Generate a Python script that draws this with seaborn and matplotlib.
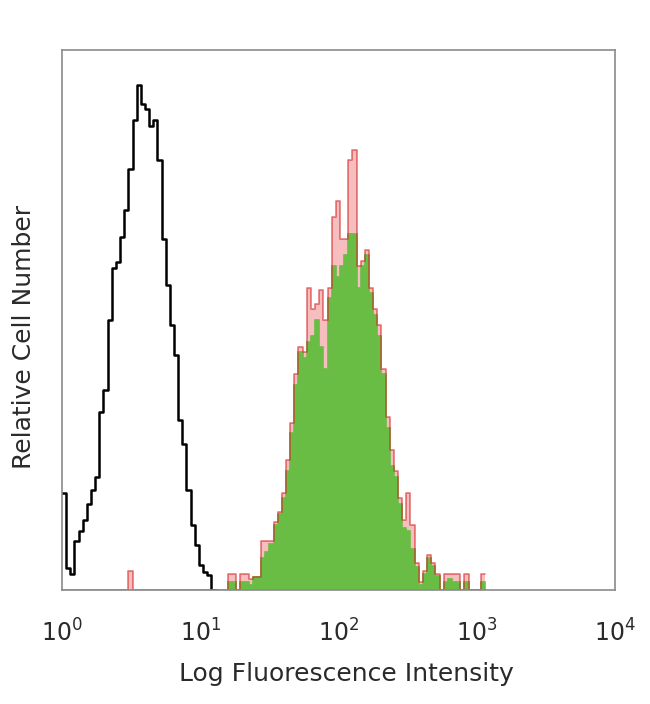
"""
Flow cytometry overlay: unstained control vs. stained cells
"""

import numpy as np
import matplotlib
matplotlib.use("Agg")
import matplotlib.pyplot as plt
import matplotlib.ticker as mticker
import seaborn as sns

# ==================== Data ====================
bin_width = 0.03  # log10 units

# control (black outline), bins starting at 10^0
control_start = 0.0
control_counts = [18, 4, 3, 9, 11, 13, 16, 18.5, 21, 33,
                  37, 50, 59.6, 60.7, 65.4, 70.4, 78, 87, 93.5, 90,
                  89, 86, 87, 79.6, 65, 56.5, 49, 43.5, 31.5, 27,
                  18.5, 12, 8.3, 4.6, 3.3, 2.8, 0]

# stained sample (green fill), bins starting at 10^1.2
stained_start = 1.2
stained_counts = [1.5, 1.5, 0, 1.5, 1.5, 1, 2.4, 2.4, 6, 7,
                  8.5, 12, 14, 17, 22, 29, 38, 44, 43, 46,
                  47, 50, 45, 41, 54, 60, 58, 60, 62, 66,
                  66, 56, 60, 62, 55, 51, 47, 40, 30, 23,
                  21, 16, 11.5, 11, 7.5, 4.3, 1, 3, 6, 4.5,
                  2.5, 0, 1.5, 2, 1.5, 1.5, 0, 1.5, 0, 0,
                  0, 1.5]

# stained sample outline (red), same bins, spikier than the fill
stained_outline = [3, 3, 0, 3, 3, 2, 2.4, 2.4, 9, 9,
                   9, 12.5, 14.5, 18, 24, 31, 40, 45, 44, 56,
                   52, 53, 55.5, 50, 56, 69, 72, 65, 65, 79.6,
                   81.5, 60, 61, 63, 56, 52, 49, 41, 32, 26,
                   22, 17, 13, 18, 12, 5, 1.5, 3.5, 6.5, 5,
                   3, 0, 3, 3, 3, 3, 0, 3, 0, 0,
                   0, 3]
# red outline also runs along the baseline from 10^0, with one small spike
outline_lead = [0] * 16 + [3.5] + [0] * 23

x_ticks = [1, 10, 100, 1000, 10000]

# ==================== Build bins ====================
ctrl_edges = control_start + bin_width * np.arange(len(control_counts) + 1)
ctrl_x = 10 ** (ctrl_edges[:-1] + bin_width / 2)

st_edges = stained_start + bin_width * np.arange(len(stained_counts) + 1)
st_x = 10 ** (st_edges[:-1] + bin_width / 2)

red_counts = outline_lead + stained_outline
red_edges = control_start + bin_width * np.arange(len(red_counts) + 1)
red_x = 10 ** (red_edges[:-1] + bin_width / 2)

# ==================== Plot ====================
sns.set_style("white")
plt.rcParams['font.family'] = ['DejaVu Sans']

green = "#69bd45"
red = "#d42020"
text_col = '#2a2a2a'

fig = plt.figure(figsize=(6.5, 7.04), dpi=100)
ax = fig.add_axes([0.0954, 0.162, 0.851, 0.767])

# pale red spikes behind the green fill
sns.histplot(x=red_x, weights=red_counts, bins=list(red_edges), log_scale=True,
             element="step", fill=True, color="#f08a8a", alpha=0.55,
             linewidth=0, ax=ax)
# filled green histogram drawn as touching bars
sns.histplot(x=st_x, weights=stained_counts, bins=list(st_edges), log_scale=True,
             element="bars", shrink=1, fill=True, color=green, alpha=1,
             edgecolor=green, linewidth=1.2, ax=ax)
# red outline on top
sns.histplot(x=red_x, weights=red_counts, bins=list(red_edges), log_scale=True,
             element="step", fill=False, color=red, alpha=0.55,
             linewidth=1.3, ax=ax)
sns.histplot(x=ctrl_x, weights=control_counts, bins=list(ctrl_edges), log_scale=True,
             element="step", fill=False, color="black", linewidth=1.8, ax=ax)

ax.set_xlim(1, 10000)
ax.set_ylim(0, 100)
ax.set_xticks(x_ticks)
ax.xaxis.set_minor_locator(mticker.NullLocator())
ax.set_yticks([])
ax.tick_params(axis='x', length=0, pad=21, labelsize=17, colors=text_col)

for s in ax.spines.values():
    s.set_color('#8a8a8a')
    s.set_linewidth(1.2)

ax.set_xlabel('Log Fluorescence Intensity', fontsize=18, color=text_col, labelpad=11)
ax.set_ylabel('Relative Cell Number', fontsize=18, color=text_col, labelpad=19)
ax.xaxis.label.set_x(0.514)
ax.yaxis.label.set_y(0.468)

plt.savefig('out.png', dpi=100)
